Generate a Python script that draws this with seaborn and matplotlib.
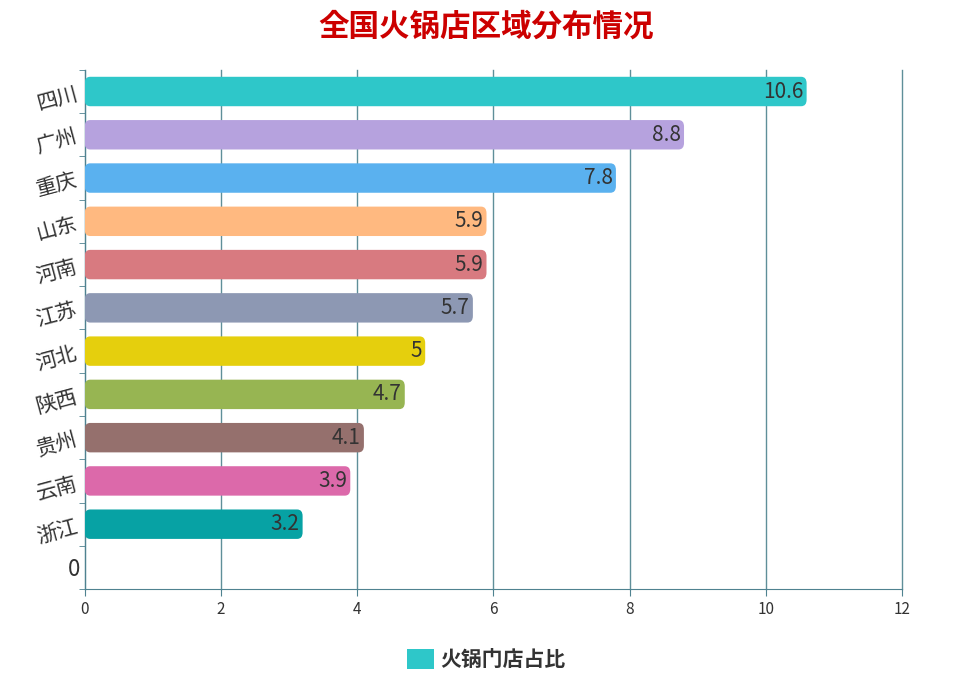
import numpy as np
import pandas as pd
import seaborn as sns
import matplotlib.pyplot as plt
from matplotlib import font_manager
from matplotlib.patches import FancyBboxPatch, Patch

# pick whichever CJK family is actually registered
cjk = [f.name for f in font_manager.fontManager.ttflist if 'CJK' in f.name]
cjk_name = 'Noto Sans CJK SC' if 'Noto Sans CJK SC' in cjk else (cjk[0] if cjk else 'DejaVu Sans')
plt.rcParams['font.family'] = 'sans-serif'
plt.rcParams['font.sans-serif'] = [cjk_name, 'DejaVu Sans']

regions = ['四川', '广州', '重庆', '山东', '河南', '江苏', '河北', '陕西', '贵州', '云南', '浙江', '0']
shares = [10.6, 8.8, 7.8, 5.9, 5.9, 5.7, 5.0, 4.7, 4.1, 3.9, 3.2, 0.0]
value_labels = ['10.6', '8.8', '7.8', '5.9', '5.9', '5.7', '5', '4.7', '4.1', '3.9', '3.2', '']
colors = ['#2ec7c9', '#b6a2de', '#5ab1ef', '#ffb980', '#d87a80', '#8d98b3',
          '#e5cf0d', '#97b552', '#95706d', '#dc69aa', '#07a2a4', '#ffffff']

df = pd.DataFrame({'region': regions, 'share': shares})

fig = plt.figure(figsize=(9.73, 6.85), dpi=100)
ax = fig.add_axes([0.087, 0.140, 0.840, 0.758])
sns.barplot(data=df, y='region', x='share', hue='region', palette=colors, saturation=1,
            order=regions, legend=False, width=0.68, ax=ax)

# swap plain bars for rounded ones
for p in list(ax.patches):
    x0, y0, w, h = p.get_x(), p.get_y(), p.get_width(), p.get_height()
    c = p.get_facecolor()
    p.remove()
    if w <= 0:
        continue
    ax.add_patch(FancyBboxPatch((x0, y0), w, h, boxstyle='round,pad=0,rounding_size=0.08',
                                mutation_aspect=1.9, facecolor=c, edgecolor='none', zorder=3))

for i, (v, lab) in enumerate(zip(shares, value_labels)):
    if lab:
        ax.text(v - 0.05, i, lab, ha='right', va='center', fontsize=15, color='#333333', zorder=4)

ax.set_xlim(0, 12)
ax.set_ylim(len(regions) - 0.5, -0.5)
ax.set_xticks(range(0, 13, 2))
ax.set_yticks(range(len(regions)))
ax.set_yticklabels(regions, rotation=15, fontsize=15, color='#333333')
ax.get_yticklabels()[-1].set_rotation(0)
ax.get_yticklabels()[-1].set_fontsize(16)
ax.set_yticks(np.arange(-0.5, len(regions), 1), minor=True)
ax.tick_params(axis='y', which='major', length=0)
ax.tick_params(axis='y', which='minor', length=4, color='#4f8290')
ax.tick_params(axis='x', labelsize=11, colors='#333333', length=5)
ax.tick_params(axis='x', color='#4f8290')
ax.grid(axis='x', color='#5f8f99', linewidth=1, zorder=0)
for gl in ax.get_xgridlines():
    gl.set_clip_on(False)
ax.set_axisbelow(True)
for s in ['top', 'right']:
    ax.spines[s].set_visible(False)
for s in ['left', 'bottom']:
    ax.spines[s].set_color('#4f8290')
ax.set_xlabel('')
ax.set_ylabel('')

fig.suptitle('全国火锅店区域分布情况', x=0.5, y=0.985, fontsize=22, fontweight='bold', color='#cc0000')
leg = fig.legend(handles=[FancyBboxPatch((0, 0), 1, 1, boxstyle='round,pad=0,rounding_size=0.2',
                                         facecolor='#2ec7c9', edgecolor='none')],
                 labels=['火锅门店占比'], loc='lower center', bbox_to_anchor=(0.5, -0.005),
                 frameon=False, prop={'size': 15, 'weight': 'bold'},
                 handlelength=1.3, handleheight=1.1, handletextpad=0.3)
plt.setp(leg.get_texts(), color='#333333')

fig.savefig('out.png', dpi=100)
